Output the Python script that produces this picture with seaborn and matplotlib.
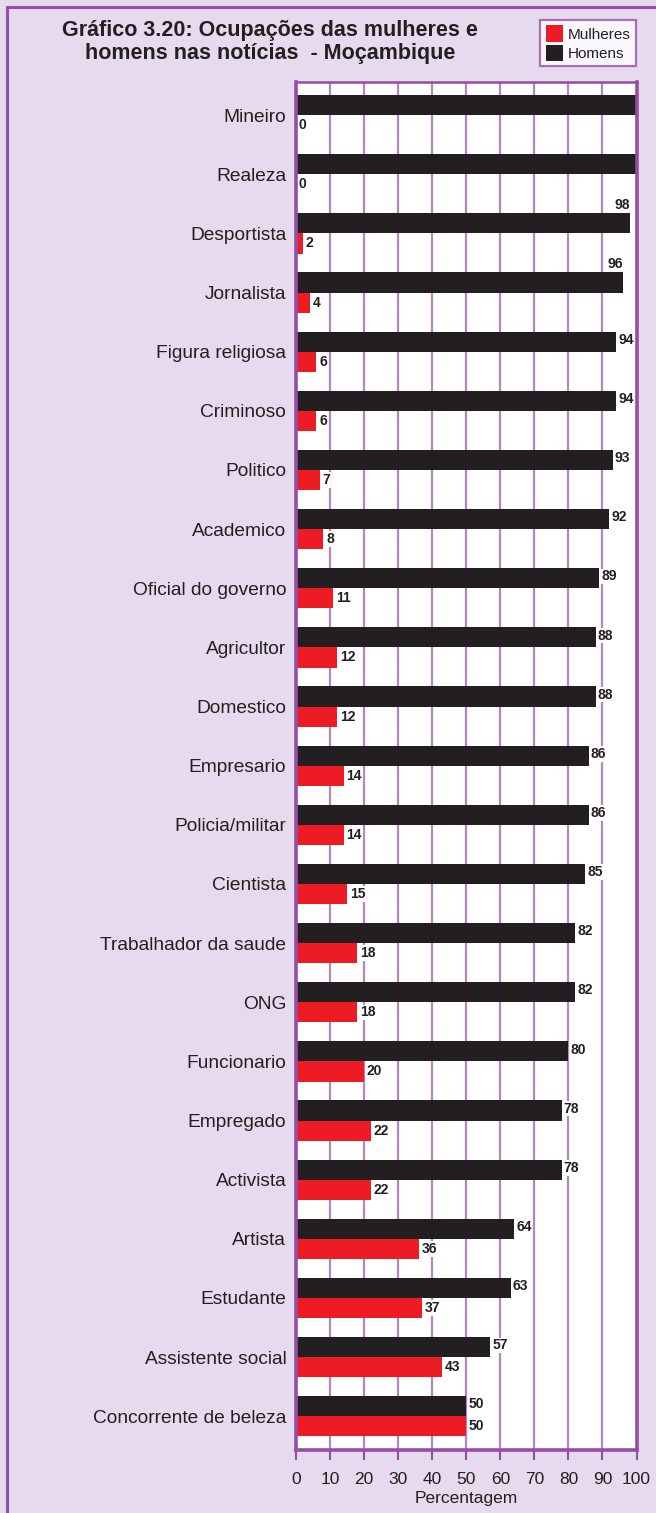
import matplotlib
matplotlib.use("Agg")
import matplotlib.pyplot as plt
from matplotlib.patches import Patch
from matplotlib.lines import Line2D
import seaborn as sns
import pandas as pd

categories = ["Mineiro", "Realeza", "Desportista", "Jornalista", "Figura religiosa",
              "Criminoso", "Politico", "Academico", "Oficial do governo", "Agricultor",
              "Domestico", "Empresario", "Policia/militar", "Cientista",
              "Trabalhador da saude", "ONG", "Funcionario", "Empregado", "Activista",
              "Artista", "Estudante", "Assistente social", "Concorrente de beleza"]
mulheres = [0, 0, 2, 4, 6, 6, 7, 8, 11, 12, 12, 14, 14, 15, 18, 18, 20, 22, 22, 36, 37, 43, 50]
homens = [100, 100, 98, 96, 94, 94, 93, 92, 89, 88, 88, 86, 86, 85, 82, 82, 80, 78, 78, 64, 63, 57, 50]
xticks = [0, 10, 20, 30, 40, 50, 60, 70, 80, 90, 100]
title = "Gráfico 3.20: Ocupações das mulheres e\nhomens nas notícias  - Moçambique"

BG = "#e6daee"
PURPLE = "#944ea6"
GRID = "#b386c6"
RED = "#ed1c24"
BLACK = "#231f20"
TXT = "#231f20"

sns.set_theme(style="white")
plt.rcParams["font.family"] = ["Liberation Sans", "DejaVu Sans"]

df = pd.DataFrame({
    "Ocupacao": categories * 2,
    "Sexo": ["Homens"] * len(categories) + ["Mulheres"] * len(categories),
    "Valor": homens + mulheres,
})

W, H = 656, 1513
fig = plt.figure(figsize=(W / 100, H / 100), dpi=100, facecolor=BG)
ax = fig.add_axes([296 / W, 63 / H, (636.5 - 296) / W, (1450 - 82) / H])
ax.set_facecolor("white")

sns.barplot(data=df, y="Ocupacao", x="Valor", hue="Sexo", order=categories,
            hue_order=["Homens", "Mulheres"], palette={"Homens": BLACK, "Mulheres": RED},
            width=0.68, gap=0, dodge=True, legend=False, saturation=1, ax=ax,
            orient="h", zorder=2, linewidth=0, edgecolor="none")

ax.set_xlim(0, 100)
ax.set_ylim(len(categories) - 1 + 0.57, -0.56)
ax.set_xticks(xticks)
ax.set_xticklabels([str(t) for t in xticks], fontsize=12.5, color=TXT)
ax.tick_params(axis="x", length=7.5, width=1.5, color=PURPLE, pad=8, direction="out",
               bottom=True)
ax.tick_params(axis="y", length=0, pad=7, labelsize=13.8, labelcolor=TXT)
ax.set_ylabel("")
ax.set_xlabel("Percentagem", fontsize=12.5, color=TXT, labelpad=3)
for t in ax.get_yticklabels():
    t.set_color(TXT)

for xv in xticks[1:-1]:
    ax.axvline(xv, color=GRID, lw=1.6, zorder=1)
for side, lw in [("left", 2.6), ("right", 2.6), ("bottom", 2.6), ("top", 1.8)]:
    ax.spines[side].set_visible(True)
    ax.spines[side].set_color(PURPLE)
    ax.spines[side].set_linewidth(lw)
    ax.spines[side].set_zorder(4)

lab_kw = dict(fontsize=10, fontweight="bold", color=TXT, zorder=5)
for i, (m, h) in enumerate(zip(mulheres, homens)):
    # Homens label
    if h < 100:
        if h >= 95:
            ax.annotate(str(h), xy=(h, i - 0.34), xytext=(0, 1), textcoords="offset points",
                        ha="right", va="bottom",
                        bbox=dict(boxstyle="square,pad=0.05", fc="white", ec="none"), **lab_kw)
        else:
            ax.annotate(str(h), xy=(h, i - 0.20), xytext=(1.5, 0), textcoords="offset points",
                        ha="left", va="center",
                        bbox=dict(boxstyle="square,pad=0.05", fc="white", ec="none"), **lab_kw)
    # Mulheres label
    ax.annotate(str(m), xy=(m, i + 0.17), xytext=(2, 0), textcoords="offset points",
                ha="left", va="center",
                bbox=dict(boxstyle="square,pad=0.05", fc="white", ec="none"), **lab_kw)

fig.text(270 / W, 1 - 42 / H, title, ha="center", va="center", fontsize=15.5,
         fontweight="bold", color=TXT, linespacing=1.12,
         family=["Liberation Sans Narrow", "Liberation Sans", "DejaVu Sans"])

handles = [Patch(facecolor=RED, edgecolor="none"), Patch(facecolor=BLACK, edgecolor="none")]
leg = fig.legend(handles, ["Mulheres", "Homens"], loc="upper right",
                 bbox_to_anchor=(636 / W, 1 - 20 / H),
                 handlelength=1.15, handleheight=1.25, handletextpad=0.3,
                 labelspacing=0.2, borderpad=0.35, borderaxespad=0, frameon=True,
                 fancybox=False,
                 prop={"family": ["Liberation Sans"], "size": 11})
leg.get_frame().set_edgecolor(PURPLE)
leg.get_frame().set_linewidth(1.6)
leg.get_frame().set_facecolor("white")
for t in leg.get_texts():
    t.set_color(TXT)

fig.add_artist(Line2D([7 / W, 7 / W], [0, 1 - 7 / H], transform=fig.transFigure,
                      color=PURPLE, lw=2.2))
fig.add_artist(Line2D([7 / W, 1], [1 - 7 / H, 1 - 7 / H], transform=fig.transFigure,
                      color=PURPLE, lw=2.2))

fig.savefig("out.png", dpi=100, facecolor=BG)
